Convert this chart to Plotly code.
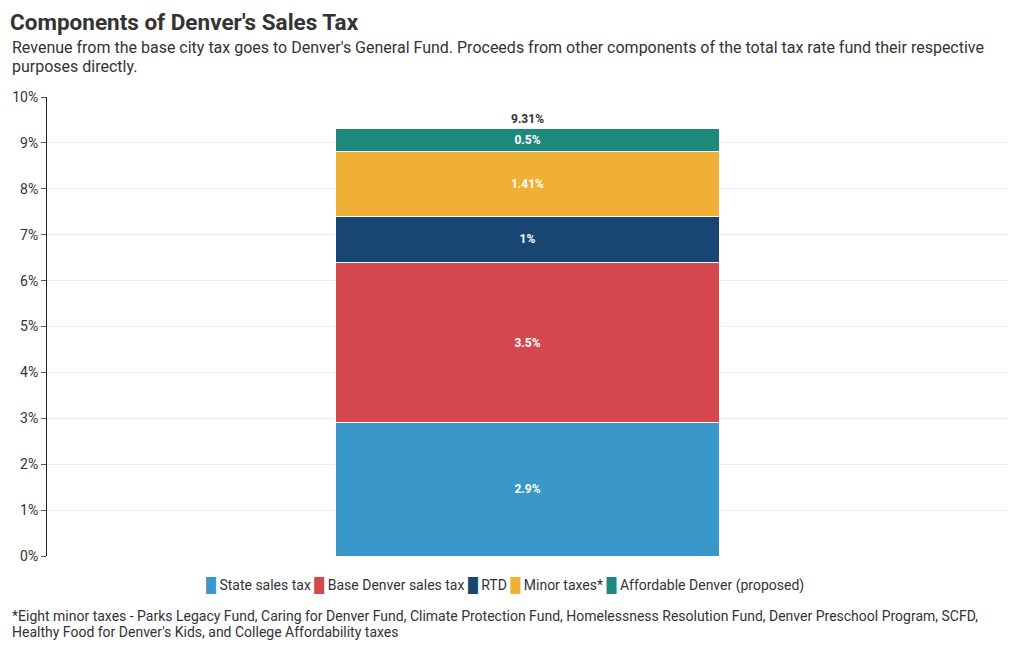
import plotly.graph_objects as go

category = ["Denver"]
series_names = ["State sales tax", "Base Denver sales tax", "RTD", "Minor taxes*", "Affordable Denver (proposed)"]
series_values = [2.9, 3.5, 1.0, 1.41, 0.5]
series_labels = ["2.9%", "3.5%", "1%", "1.41%", "0.5%"]
colors = ["#3a97c9", "#d5474f", "#174673", "#f0b035", "#1d8a7d"]
tick_vals = [0, 1, 2, 3, 4, 5, 6, 7, 8, 9, 10]
tick_text = ["0%", "1%", "2%", "3%", "4%", "5%", "6%", "7%", "8%", "9%", "10%"]

total = round(sum(series_values), 2)

fig = go.Figure()
for name, val, lab, col in zip(series_names, series_values, series_labels, colors):
    fig.add_trace(go.Bar(
        x=category, y=[val], name=name, marker=dict(color=col, line=dict(color="white", width=1)),
        text=[lab], textposition="inside", insidetextanchor="middle",
        textfont=dict(family="Roboto", size=12, color="white", weight="bold"),
        width=0.4, hoverinfo="name+y", showlegend=False,
    ))

legend_text = " ".join(
    f'<span style="color:{c}">█</span> {n}' for n, c in zip(series_names, colors)
)

PH = 459  # plot height px (for paper offsets)
PW = 961

fig.update_layout(
    barmode="stack",
    width=1020, height=650,
    margin=dict(l=47, r=12, t=97, b=94),
    plot_bgcolor="white", paper_bgcolor="white",
    font=dict(family="Roboto", size=14, color="#333333"),
    title=dict(
        text="<b>Components of Denver's Sales Tax</b>",
        font=dict(family="Roboto", size=22.5, color="#333333"),
        xref="container", yref="container", x=10/1020, xanchor="left", y=1-22/650, yanchor="middle",
    ),
    showlegend=False,
    uniformtext=dict(mode="show", minsize=12),
    annotations=[
        dict(x=category[0], y=total, xref="x", yref="y", text=f"<b>{total}%</b>", showarrow=False,
             yanchor="bottom", yshift=1, font=dict(family="Roboto", size=12, color="#333333")),
        dict(text="Revenue from the base city tax goes to Denver's General Fund. Proceeds from other components of the total tax rate fund their respective",
             xref="paper", yref="paper", x=-37/PW, y=1+(97-47)/PH, xanchor="left", yanchor="middle", align="left",
             showarrow=False, font=dict(family="Roboto", size=16, color="#333333")),
        dict(text="purposes directly.",
             xref="paper", yref="paper", x=-37/PW, y=1+(97-66)/PH, xanchor="left", yanchor="middle", align="left",
             showarrow=False, font=dict(family="Roboto", size=16, color="#333333")),
        dict(text=legend_text,
             xref="paper", yref="paper", x=(505-47)/PW, y=-(586-556)/PH, xanchor="center", yanchor="middle",
             showarrow=False, font=dict(family="Roboto", size=14, color="#333333")),
        dict(text="*Eight minor taxes - Parks Legacy Fund, Caring for Denver Fund, Climate Protection Fund, Homelessness Resolution Fund, Denver Preschool Program, SCFD,",
             xref="paper", yref="paper", x=-37/PW, y=-(616-556)/PH, xanchor="left", yanchor="middle", align="left",
             showarrow=False, font=dict(family="Roboto", size=14, color="#333333")),
        dict(text="Healthy Food for Denver's Kids, and College Affordability taxes",
             xref="paper", yref="paper", x=-37/PW, y=-(632-556)/PH, xanchor="left", yanchor="middle", align="left",
             showarrow=False, font=dict(family="Roboto", size=14, color="#333333")),
    ],
)

fig.update_xaxes(showticklabels=False, showgrid=False, showline=False, zeroline=False, range=[-0.5, 0.5])
fig.update_yaxes(range=[0, 10], tickvals=tick_vals, ticktext=tick_text, showgrid=True, gridcolor="#ebebeb",
                 showline=True, linecolor="#222222", linewidth=1, ticks="outside", ticklen=5, tickcolor="#555555",
                 zeroline=False, tickfont=dict(family="Roboto", size=14, color="#333333"))

fig.write_html("out.html")
